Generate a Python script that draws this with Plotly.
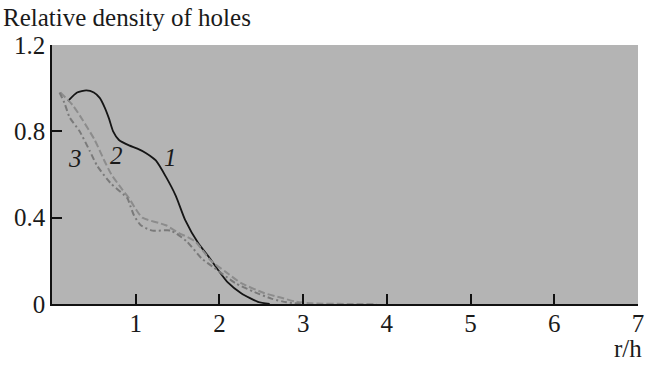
import plotly.graph_objects as go

# Radial profiles of relative hole density, r/h on the x axis
x1 = [0.19, 0.30, 0.41, 0.50, 0.57, 0.63, 0.68, 0.73, 0.80, 0.92, 1.02, 1.12, 1.24, 1.36, 1.48, 1.59, 1.75, 1.87, 1.99, 2.10, 2.26, 2.46, 2.60]
y1 = [0.94, 0.98, 0.99, 0.98, 0.955, 0.91, 0.86, 0.80, 0.76, 0.735, 0.72, 0.70, 0.665, 0.59, 0.50, 0.39, 0.28, 0.22, 0.155, 0.10, 0.05, 0.01, 0.0]

x2 = [0.10, 0.25, 0.37, 0.51, 0.63, 0.71, 0.84, 0.92, 1.00, 1.08, 1.36, 1.51, 1.71, 1.90, 2.07, 2.26, 2.54, 2.73, 2.90, 3.10, 3.60, 3.88]
y2 = [0.98, 0.92, 0.85, 0.76, 0.66, 0.60, 0.53, 0.49, 0.44, 0.40, 0.365, 0.33, 0.29, 0.20, 0.15, 0.097, 0.05, 0.03, 0.012, 0.003, 0.0, 0.0]

x3 = [0.09, 0.15, 0.21, 0.33, 0.45, 0.54, 0.70, 0.90, 0.94, 0.98, 1.06, 1.20, 1.42, 1.61, 1.79, 1.93, 2.19, 2.42, 2.62, 2.80, 3.00]
y3 = [0.98, 0.93, 0.865, 0.80, 0.71, 0.64, 0.56, 0.49, 0.45, 0.41, 0.365, 0.34, 0.34, 0.29, 0.21, 0.17, 0.097, 0.055, 0.025, 0.008, 0.0]

curve_labels = ["1", "2", "3"]
label_x = [1.42, 0.77, 0.27]
label_y = [0.68, 0.69, 0.675]

x_ticks = [1, 2, 3, 4, 5, 6, 7]
y_ticks = [0, 0.4, 0.8, 1.2]
y_ticktext = ["0", "0.4", "0.8", "1.2"]

FONT = "Liberation Serif"
FS = 25

fig = go.Figure()
fig.add_trace(go.Scatter(x=x1, y=y1, mode="lines", line=dict(color="#151515", width=1.8, shape="spline", smoothing=0.6)))
fig.add_trace(go.Scatter(x=x2, y=y2, mode="lines", line=dict(color="#8c8c8c", width=2, dash="7px,3px", shape="spline", smoothing=0.6)))
fig.add_trace(go.Scatter(x=x3, y=y3, mode="lines", line=dict(color="#7a7a7a", width=2, dash="6px,3px,2px,3px", shape="spline", smoothing=0.6)))

for t, lx, ly in zip(curve_labels, label_x, label_y):
    fig.add_annotation(x=lx, y=ly, text=f"<i>{t}</i>", showarrow=False,
                       font=dict(family=FONT, size=FS, color="#1a1a1a"))

plot_w = 650 - 52 - 6
plot_h = 366 - 45 - 62

fig.add_annotation(xref="paper", yref="paper", x=-52 / plot_w, y=1 + 28 / plot_h,
                   xanchor="left", yanchor="middle", text="Relative density of holes",
                   showarrow=False, font=dict(family=FONT, size=FS, color="#1a1a1a"))
fig.add_annotation(xref="paper", yref="paper", x=(650 - 52) / plot_w, y=-44 / plot_h,
                   xanchor="right", yanchor="middle", text="r/h",
                   showarrow=False, font=dict(family=FONT, size=FS, color="#1a1a1a"))

fig.update_layout(
    width=650, height=366,
    margin=dict(l=52, r=6, t=45, b=62),
    paper_bgcolor="white", plot_bgcolor="#b4b4b4",
    showlegend=False,
    font=dict(family=FONT, size=FS, color="#1a1a1a"),
)
fig.update_xaxes(range=[0, 7], tickvals=x_ticks, ticks="inside", ticklen=10, tickwidth=1.5,
                 tickcolor="#111", showline=True, linecolor="#111", linewidth=1.5,
                 showgrid=False, zeroline=False, fixedrange=True,
                 ticklabeloverflow="allow", ticklabelstandoff=-4,
                 tickfont=dict(family=FONT, size=FS, color="#1a1a1a"))
fig.update_yaxes(range=[0, 1.2], tickvals=y_ticks, ticktext=y_ticktext, ticks="inside", ticklen=10,
                 tickwidth=1.5, tickcolor="#111", showline=True, linecolor="#111", linewidth=1.5,
                 showgrid=False, zeroline=False, fixedrange=True,
                 ticklabeloverflow="allow",
                 tickfont=dict(family=FONT, size=FS, color="#1a1a1a"))

fig.write_html("out.html")
